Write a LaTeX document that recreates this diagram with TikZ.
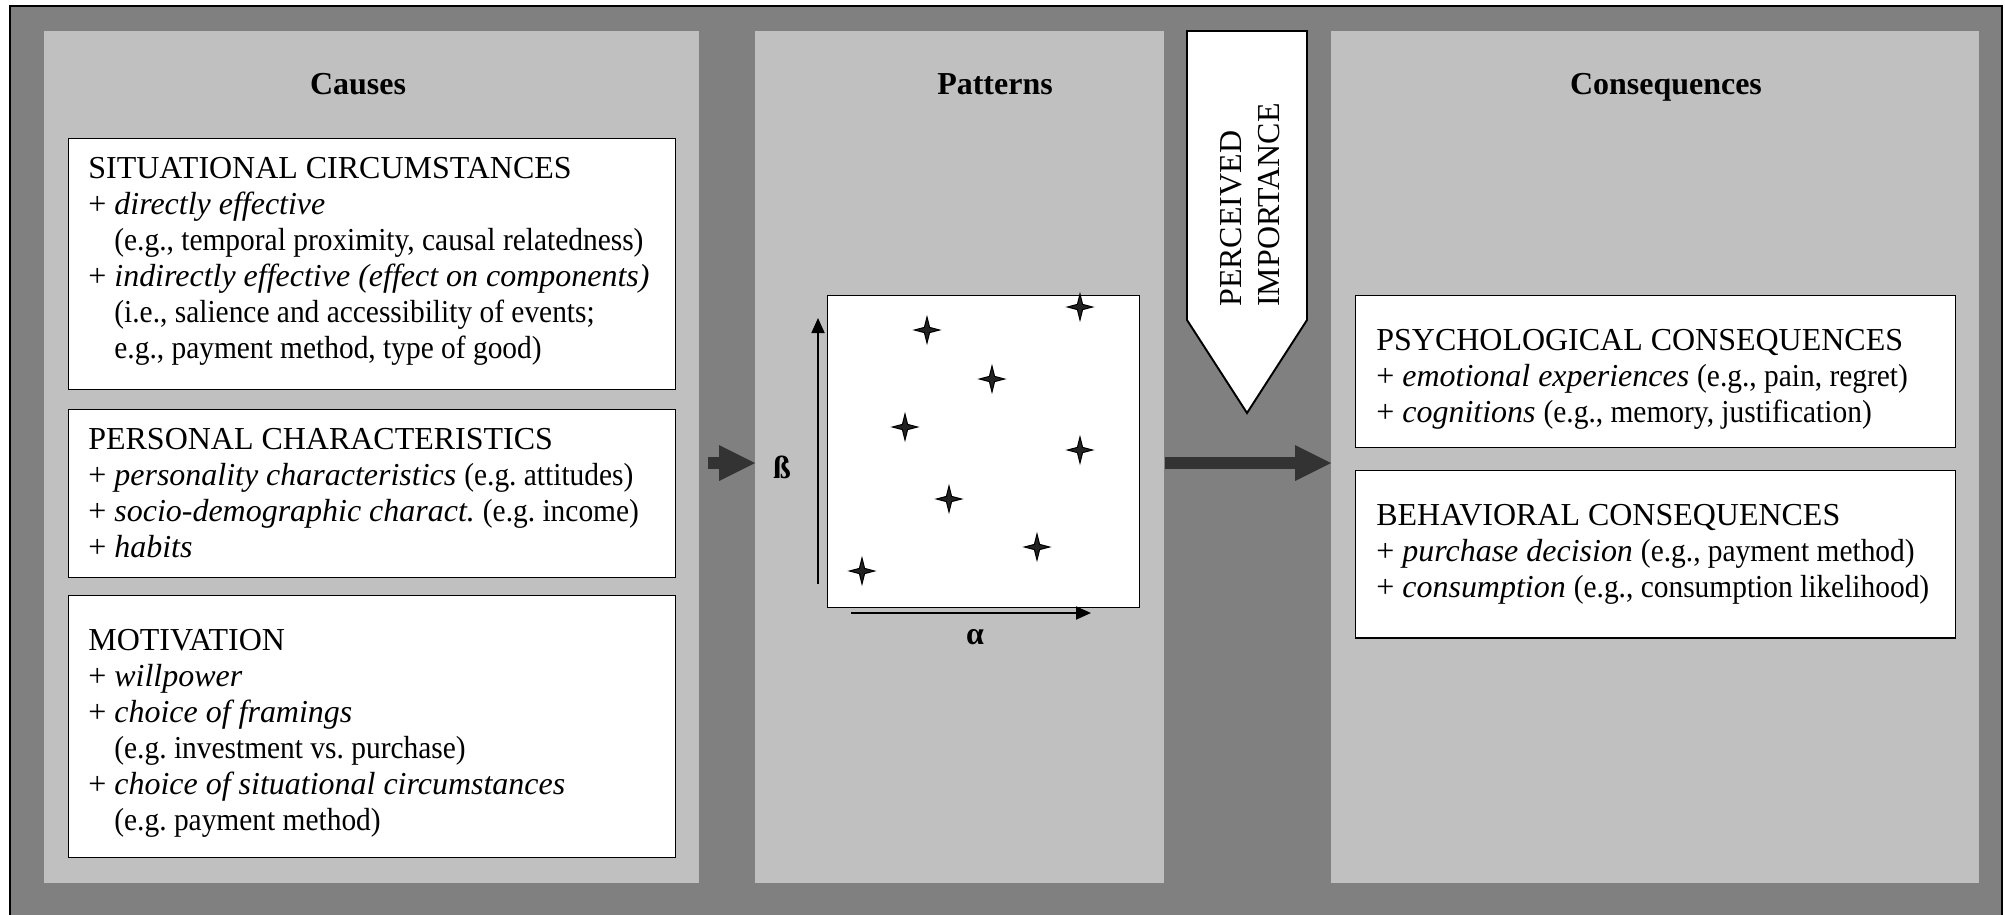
\documentclass[tikz,border=0pt]{standalone}
\usepackage{fontspec}
\setmainfont{Liberation Serif}
\newfontfamily\slimfont{Liberation Serif}[FakeStretch=0.92]
\usepackage{xcolor}
\usetikzlibrary{positioning,calc,arrows.meta}
\frenchspacing

\definecolor{framegray}{HTML}{808080}
\definecolor{panelgray}{HTML}{C0C0C0}
\definecolor{arrowgray}{HTML}{333333}
\definecolor{stargray}{HTML}{222222}

\newcommand{\ind}{\hphantom{+\ }}
\newcommand{\eg}[1]{{\slimfont #1}}

\tikzset{
  panel/.style={fill=panelgray, anchor=north west, inner sep=0pt, minimum height=17.04cm},
  heading/.style={font=\fontsize{18.2}{20.5}\selectfont\bfseries},
  itembox/.style={draw, line width=0.8pt, fill=white, anchor=north west, inner sep=0pt},
  boxtext/.style={anchor=north west, align=left, inner sep=0pt, font=\fontsize{18.2}{20.5}\selectfont},
  flowarrow/.style={draw=arrowgray, line width=0.24cm,
    -{Triangle[length=0.72cm, width=0.72cm, line width=0pt]}},
  axisarrow/.style={line width=1pt, -{Triangle[length=0.3cm, width=0.26cm]}},
}

\begin{document}
\begin{tikzpicture}[x=0.02cm, y=-0.02cm]
  \clip (0,0) rectangle (2005,914);
  % Frame
  \draw[fill=framegray, line width=1.1pt] (10,6) rectangle (2002,940);

  % Panels
  \node[panel, minimum width=13.1cm] (causes) at (44,31) {};
  \node[panel, minimum width=8.18cm] (patterns) at (755,31) {};
  \node[panel, minimum width=12.96cm] (conseq) at (1331,31) {};

  \node[heading, anchor=base] (causestitle) at (358,94) {Causes};
  \node[heading, anchor=base] (patternstitle) at (995,94) {Patterns};
  \node[heading, anchor=base] (conseqtitle) at (1666,94) {Consequences};

  % Causes
  \node[itembox, minimum width=12.14cm, minimum height=5.02cm] (situational) at (68,138) {};
  \node[boxtext] (situationaltext) at (88,157)
    {SITUATIONAL CIRCUMSTANCES\\
     + \textit{directly effective}\\
     \ind\eg{(e.g., temporal proximity, causal relatedness)}\\
     + \textit{indirectly effective (effect on components)}\\
     \ind\eg{(i.e., salience and accessibility of events;}\\
     \ind\eg{e.g., payment method, type of good)}};
  \node[itembox, minimum width=12.14cm, minimum height=3.36cm] (personal) at (68,409) {};
  \node[boxtext] (personaltext) at (88,428)
    {PERSONAL CHARACTERISTICS\\
     + \textit{personality characteristics} \eg{(e.g. attitudes)}\\
     + \textit{socio-demographic charact.} \eg{(e.g. income)}\\
     + \textit{habits}};
  \node[itembox, minimum width=12.14cm, minimum height=5.24cm] (motivation) at (68,595) {};
  \node[boxtext] (motivationtext) at (88,629)
    {MOTIVATION\\
     + \textit{willpower}\\
     + \textit{choice of framings}\\
     \ind\eg{(e.g. investment vs. purchase)}\\
     + \textit{choice of situational circumstances}\\
     \ind\eg{(e.g. payment method)}};

  % Patterns plot
  \node[draw, fill=white, line width=0.8pt, minimum size=6.24cm, anchor=north west, inner sep=0pt] (plot) at (827,295) {};
  \coordinate (betabase) at (818,584);
  \coordinate (betatop) at (818,318);
  \coordinate (alphabase) at (851,613);
  \coordinate (alphatop) at (1091,613);
  \draw[axisarrow] (betabase) -- (betatop);
  \draw[axisarrow] (alphabase) -- (alphatop);
  \node[heading] (beta) at (782,467) {ß};
  \node[heading] (alpha) at (975,637) {α};
  \foreach \sx/\sy in {927/330, 1080/307, 992/379, 905/427, 1080/450, 949/499, 1037/547, 862/571}
    \draw[fill=stargray, line width=0.6pt, shift={(\sx,\sy)}]
      (0,-13) -- (2.6,-2.6) -- (12.5,0) -- (2.6,2.6) -- (0,13) -- (-2.6,2.6) -- (-12.5,0) -- (-2.6,-2.6) -- cycle;

  % Perceived importance
  \draw[fill=white, line width=1.1pt] (1187,31) -- (1307,31) -- (1307,320) -- (1247,413) -- (1187,320) -- cycle;
  \node[rotate=90, anchor=west, align=left, inner sep=0pt, font=\fontsize{18.2}{21.5}\selectfont] (importance) at (1250,307)
    {PERCEIVED\\IMPORTANCE};

  % Consequences
  \node[itembox, minimum width=12cm, minimum height=3.04cm] (psych) at (1355,295) {};
  \node[boxtext] (psychtext) at (1376,329)
    {PSYCHOLOGICAL CONSEQUENCES\\
     + \textit{emotional experiences} \eg{(e.g., pain, regret)}\\
     + \textit{cognitions} \eg{(e.g., memory, justification)}};
  \node[itembox, minimum width=12cm, minimum height=3.35cm] (behav) at (1355,470) {};
  \node[boxtext] (behavtext) at (1376,504)
    {BEHAVIORAL CONSEQUENCES\\
     + \textit{purchase decision} \eg{(e.g., payment method)}\\
     + \textit{consumption} \eg{(e.g., consumption likelihood)}};

  % Flow arrows
  \coordinate (flow) at (0,463);
  \draw[flowarrow, shorten <=0.16cm] (causes.east |- flow) -- (patterns.west |- flow);
  \draw[flowarrow] (patterns.east |- flow) -- (conseq.west |- flow);
\end{tikzpicture}
\end{document}
